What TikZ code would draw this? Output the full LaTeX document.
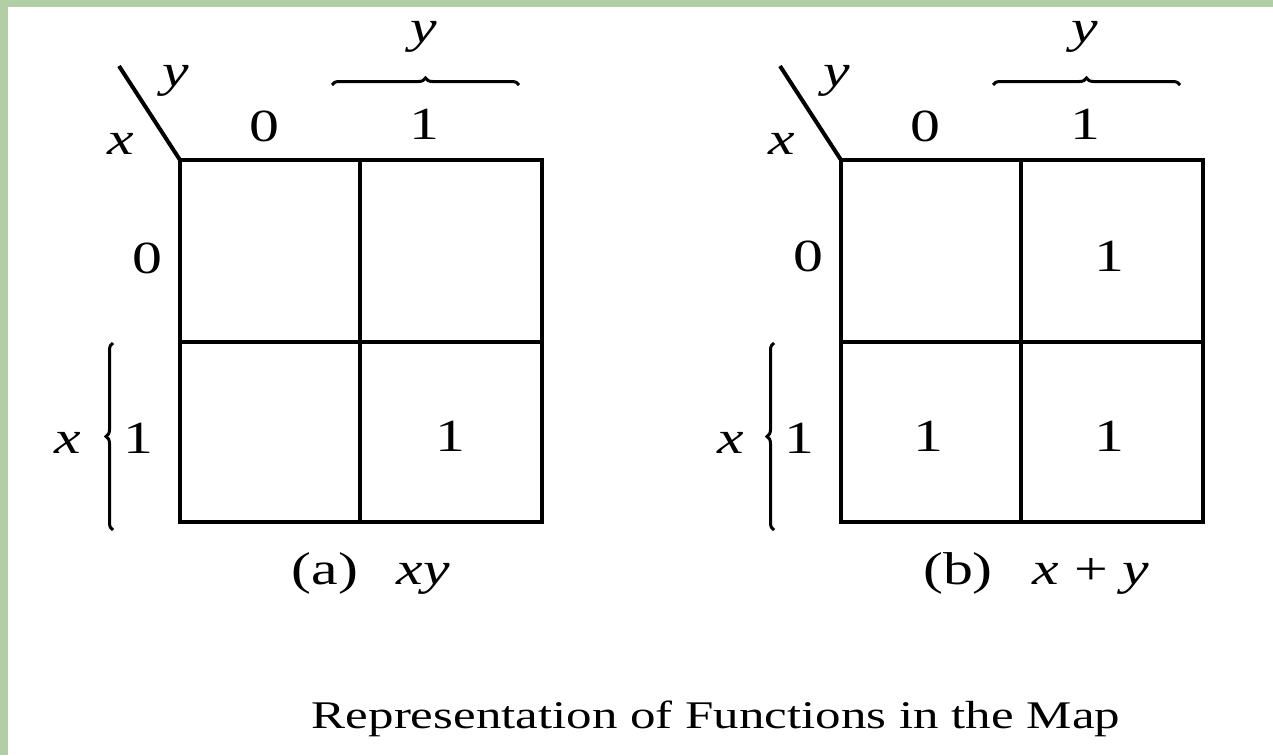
\documentclass[tikz,border=0pt]{standalone}
\usepackage{fontspec}
\setmainfont[FakeStretch=1.3]{Liberation Serif}
\usetikzlibrary{decorations.pathreplacing}
\definecolor{bordergreen}{RGB}{178,206,165}
\begin{document}
\begin{tikzpicture}[x=1pt,y=-1pt,
  lbl/.style={anchor=base,inner sep=0pt,font=\fontsize{46}{50}\selectfont},
  ttl/.style={anchor=base,inner sep=0pt,font=\fontsize{39.2}{44}\selectfont},
  gridline/.style={line width=4.5pt},
  bracepath/.style={line width=3pt,decorate,decoration={brace,amplitude=7pt}},
  diag/.style={line width=4pt}]
\useasboundingbox (0,0) rectangle (1273,755);
\fill[white] (0,0) rectangle (1273,755);
\fill[bordergreen] (0,0) rectangle (8,755);
\fill[bordergreen] (0,0) rectangle (1273,7);

% ---------- map (a) ----------
\coordinate (a-tl) at (180,160);
\coordinate (a-br) at (542,522);
\coordinate (a-mt) at (360,160);
\coordinate (a-mb) at (360,522);
\coordinate (a-ml) at (180,342);
\coordinate (a-mr) at (542,342);
\coordinate (a-d) at (119,66);
\coordinate (a-b1) at (332,85);
\coordinate (a-b2) at (519,85);
\coordinate (a-l1) at (113,530);
\coordinate (a-l2) at (113,343);
\draw[gridline] (a-tl) rectangle (a-br);
\draw[gridline] (a-mt) -- (a-mb);
\draw[gridline] (a-ml) -- (a-mr);
\draw[diag] (a-d) -- (a-tl);
\draw[bracepath] (a-b1) -- (a-b2);
\draw[bracepath] (a-l1) -- (a-l2);
\node[lbl] (a-dy) at (176,86) {\textit{y}};
\node[lbl] (a-dx) at (121,154) {\textit{x}};
\node[lbl] (a-c0) at (264,141) {0};
\node[lbl] (a-c1) at (424,139) {1};
\node[lbl] (a-ty) at (424,42) {\textit{y}};
\node[lbl] (a-r0) at (147,273) {0};
\node[lbl] (a-r1) at (138,453) {1};
\node[lbl] (a-lx) at (68,453) {\textit{x}};
\node[lbl] (a-v11) at (450,451) {1};
\node[lbl] (a-cap) at (325,584) {(a)};
\node[lbl] (a-fn) at (423,584) {\textit{xy}};

% ---------- map (b) ----------
\coordinate (b-tl) at (841,160);
\coordinate (b-br) at (1203,522);
\coordinate (b-mt) at (1021,160);
\coordinate (b-mb) at (1021,522);
\coordinate (b-ml) at (841,342);
\coordinate (b-mr) at (1203,342);
\coordinate (b-d) at (780,66);
\coordinate (b-b1) at (993,85);
\coordinate (b-b2) at (1180,85);
\coordinate (b-l1) at (774,530);
\coordinate (b-l2) at (774,343);
\draw[gridline] (b-tl) rectangle (b-br);
\draw[gridline] (b-mt) -- (b-mb);
\draw[gridline] (b-ml) -- (b-mr);
\draw[diag] (b-d) -- (b-tl);
\draw[bracepath] (b-b1) -- (b-b2);
\draw[bracepath] (b-l1) -- (b-l2);
\node[lbl] (b-dy) at (837,86) {\textit{y}};
\node[lbl] (b-dx) at (782,154) {\textit{x}};
\node[lbl] (b-c0) at (925,141) {0};
\node[lbl] (b-c1) at (1085,139) {1};
\node[lbl] (b-ty) at (1085,42) {\textit{y}};
\node[lbl] (b-r0) at (808,271) {0};
\node[lbl] (b-r1) at (799,453) {1};
\node[lbl] (b-lx) at (731,453) {\textit{x}};
\node[lbl] (b-v01) at (1109,271) {1};
\node[lbl] (b-v10) at (928,451) {1};
\node[lbl] (b-v11) at (1109,451) {1};
\node[lbl] (b-cap) at (958,584) {(b)};
\node[lbl] (b-fn) at (1091,584) {\textit{x} + \textit{y}};

% ---------- title ----------
\node[ttl] (title) at (716,728) {Representation of Functions in the Map};
\end{tikzpicture}
\end{document}
